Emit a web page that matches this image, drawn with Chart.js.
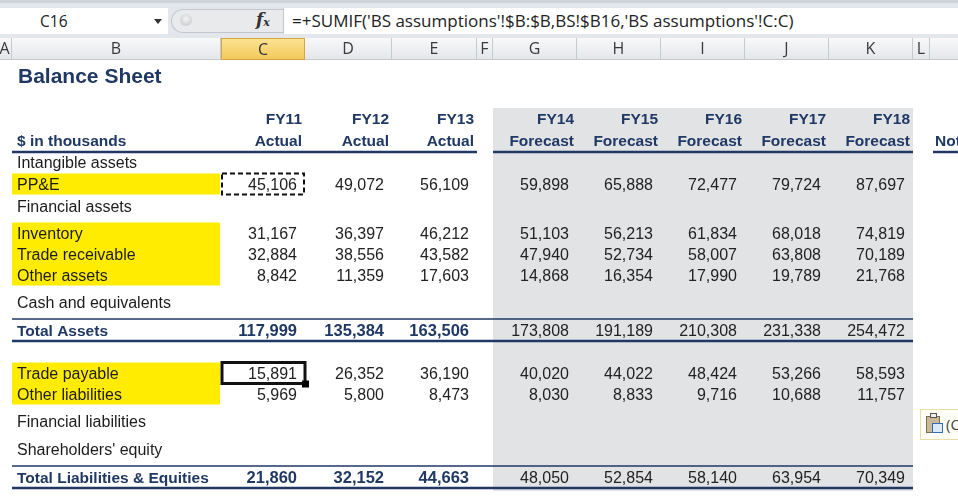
<!DOCTYPE html>
<html>
<head>
<meta charset="utf-8">
<script src="https://cdn.jsdelivr.net/npm/chart.js@4.4.1/dist/chart.umd.min.js"></script>
<style>
  html, body { margin: 0; padding: 0; background: #fff; overflow: hidden; }
  #wrap { position: relative; width: 958px; height: 496px; }
  #sheet { position: absolute; left: 0; top: 0; }
  .chrome { position: absolute; z-index: 2; }
  #topband { left: 0; top: 0; width: 958px; height: 38px; background: #e3e7ec; border-top: 3px solid #cfd4da; box-sizing: border-box; }
  #namebox { left: 0; top: 8px; width: 168px; height: 26px; background: #fff; font: 15.5px "Open Sans", sans-serif; color: #222; }
  #namebox span { position: absolute; left: 40px; top: 2px; }
  #namebox i { position: absolute; left: 154px; top: 11px; width: 0; height: 0; border-left: 4px solid transparent; border-right: 4px solid transparent; border-top: 5px solid #333; }
  #pill { left: 171px; top: 9px; width: 112px; height: 24px; background: #e9eaec; border: 1px solid #c3c7cc; border-right: none; border-radius: 13px 0 0 13px; box-sizing: border-box; }
  #knob { left: 180px; top: 14px; width: 12px; height: 12px; border-radius: 6px; background: radial-gradient(circle at 50% 40%, #f4f4f4, #bfc2c6); }
  #fx { left: 256px; top: 9px; font: italic bold 17px "DejaVu Serif", serif; color: #333; }
  #fx sub { font-size: 11px; vertical-align: -1px; }
  #formula { left: 283px; top: 8px; width: 675px; height: 26px; background: #fff; border-left: 1px solid #c3c7cc; box-sizing: border-box; font: 17px "Open Sans", sans-serif; color: #222; padding-left: 8px; line-height: 26px; white-space: nowrap; }
  .colhead { top: 38px; height: 22px; box-sizing: border-box; background: linear-gradient(#f7f8f9, #e4e7ea); border-right: 1px solid #c6cacf; border-bottom: 1px solid #c6cacf; font: 16px "Open Sans", sans-serif; color: #3a3a3a; text-align: center; line-height: 21px; }
  .colhead.sel { background: linear-gradient(#fbe291, #f3c95c); border: 1px solid #d9a63d; color: #333; }
  #paste { left: 920px; top: 409px; width: 50px; height: 31px; box-sizing: border-box; border: 1px solid #e8dca8; background: #fffef4; font: 15px "Open Sans", sans-serif; color: #444; }
  #paste .board { position: absolute; left: 5px; top: 6px; width: 14px; height: 17px; background: #c9b99a; border: 1px solid #7d6f55; box-sizing: border-box; }
  #paste .clip { position: absolute; left: 9px; top: 3px; width: 7px; height: 5px; background: #eee; border: 1px solid #555; box-sizing: border-box; }
  #paste .doc { position: absolute; left: 11px; top: 13px; width: 11px; height: 10px; background: #dbeaf8; border: 1px solid #2f6db4; box-sizing: border-box; }
  #paste span { position: absolute; left: 25px; top: 4px; }
</style>
</head>
<body>
<div id="wrap">
  <canvas id="sheet" width="958" height="496"></canvas>
  <div class="chrome" id="topband"></div>
  <div class="chrome" id="namebox"><span>C16</span><i></i></div>
  <div class="chrome" id="pill"></div>
  <div class="chrome" id="knob"></div>
  <div class="chrome" id="fx">f<sub>x</sub></div>
  <div class="chrome" id="formula">=+SUMIF('BS assumptions'!$B:$B,BS!$B16,'BS assumptions'!C:C)</div>
  <div id="heads"></div>
  <div class="chrome" id="paste"><div class="board"></div><div class="clip"></div><div class="doc"></div><span>(C</span></div>
</div>
<script>
// ---- data ----
const years = ['FY11', 'FY12', 'FY13', 'FY14', 'FY15', 'FY16', 'FY17', 'FY18'];
const basis = ['Actual', 'Actual', 'Actual', 'Forecast', 'Forecast', 'Forecast', 'Forecast', 'Forecast'];
const rowLabels = ['Intangible assets', 'PP&E', 'Financial assets', 'Inventory', 'Trade receivable', 'Other assets',
  'Cash and equivalents', 'Total Assets', 'Trade payable', 'Other liabilities', 'Financial liabilities',
  "Shareholders' equity", 'Total Liabilities & Equities'];
const ppe = [45106, 49072, 56109, 59898, 65888, 72477, 79724, 87697];
const inventory = [31167, 36397, 46212, 51103, 56213, 61834, 68018, 74819];
const tradeReceivable = [32884, 38556, 43582, 47940, 52734, 58007, 63808, 70189];
const otherAssets = [8842, 11359, 17603, 14868, 16354, 17990, 19789, 21768];
const totalAssets = [117999, 135384, 163506, 173808, 191189, 210308, 231338, 254472];
const tradePayable = [15891, 26352, 36190, 40020, 44022, 48424, 53266, 58593];
const otherLiabilities = [5969, 5800, 8473, 8030, 8833, 9716, 10688, 11757];
const totalLiabEq = [21860, 32152, 44663, 48050, 52854, 58140, 63954, 70349];

// which label row each series belongs to
const seriesRows = [
  { row: 1, values: ppe },
  { row: 3, values: inventory },
  { row: 4, values: tradeReceivable },
  { row: 5, values: otherAssets },
  { row: 7, values: totalAssets, total: true },
  { row: 8, values: tradePayable },
  { row: 9, values: otherLiabilities },
  { row: 12, values: totalLiabEq, total: true }
];

// ---- sheet layout (pixels of the sheet) ----
const colLetters = ['A', 'B', 'C', 'D', 'E', 'F', 'G', 'H', 'I', 'J', 'K', 'L', ''];
const colEdges = [-2, 12, 221, 305, 392, 477, 493, 577, 661, 745, 829, 913, 930, 960];
const yearCols = [2, 3, 4, 6, 7, 8, 9, 10];
const rowY = [162, 184, 206, 233, 254, 275, 302, 330, 373, 394, 421, 449, 477];
const NAVY = '#1f3864';
const FONT = '"Liberation Sans", Arial, sans-serif';
const TY = 1.5; // text sits a touch low in Excel cells

// column header strip
const heads = document.getElementById('heads');
colLetters.forEach((c, i) => {
  const d = document.createElement('div');
  d.className = 'chrome colhead' + (c === 'C' ? ' sel' : '');
  d.style.left = colEdges[i] + 'px';
  d.style.width = (colEdges[i + 1] - colEdges[i]) + 'px';
  d.textContent = c;
  heads.appendChild(d);
});

const fmt = v => v.toLocaleString('en-US');

const sheetPlugin = {
  id: 'sheet',
  beforeDatasetsDraw(chart) {
    const { ctx, scales: { x, y } } = chart;
    const band = (x0, x1, y0, y1, color) => {
      ctx.fillStyle = color;
      ctx.fillRect(x.getPixelForValue(x0), y.getPixelForValue(y0),
        x.getPixelForValue(x1) - x.getPixelForValue(x0), y.getPixelForValue(y1) - y.getPixelForValue(y0));
    };
    const hline = (x0, x1, yy, w) => {
      ctx.strokeStyle = NAVY;
      ctx.lineWidth = w;
      ctx.beginPath();
      ctx.moveTo(x.getPixelForValue(x0), y.getPixelForValue(yy));
      ctx.lineTo(x.getPixelForValue(x1), y.getPixelForValue(yy));
      ctx.stroke();
    };
    ctx.save();
    // forecast shading
    band(colEdges[6], colEdges[11], 108, 491, '#e2e3e5');
    // yellow input rows
    band(12, 220, rowY[1] - 10.5, rowY[1] + 10.5, '#ffec00');
    band(12, 220, rowY[3] - 10.5, rowY[5] + 10.5, '#ffec00');
    band(12, 220, rowY[8] - 10.5, rowY[9] + 10.5, '#ffec00');
    // header underline
    hline(12, colEdges[5], 152, 2.5);
    hline(colEdges[6], colEdges[11], 152, 2.5);
    hline(933, 960, 152, 2.5);
    // totals
    [7, 12].forEach(r => {
      hline(12, colEdges[11], rowY[r] - 11, 1.5);
      hline(12, colEdges[11], rowY[r] + 11, 2.5);
    });
    ctx.restore();
  },
  afterDatasetsDraw(chart) {
    const { ctx, scales: { x, y } } = chart;
    ctx.save();
    ctx.textBaseline = 'middle';
    // title
    ctx.fillStyle = NAVY;
    ctx.font = 'bold 21px ' + FONT;
    ctx.textAlign = 'left';
    ctx.fillText('Balance Sheet', x.getPixelForValue(18), y.getPixelForValue(76 + TY));
    // column headings
    ctx.font = 'bold 15.5px ' + FONT;
    ctx.fillText('$ in thousands', x.getPixelForValue(17), y.getPixelForValue(140 + TY));
    ctx.fillText('Not', x.getPixelForValue(935), y.getPixelForValue(140 + TY));
    ctx.textAlign = 'right';
    years.forEach((yr, i) => {
      const cx = x.getPixelForValue(colEdges[yearCols[i] + 1] - 3);
      ctx.fillText(yr, cx, y.getPixelForValue(118 + TY));
      ctx.fillText(basis[i], cx, y.getPixelForValue(140 + TY));
    });
    // row labels
    ctx.textAlign = 'left';
    rowLabels.forEach((lab, r) => {
      const isTotal = r === 7 || r === 12;
      ctx.font = (isTotal ? 'bold 15.5px ' : '16px ') + FONT;
      ctx.fillStyle = isTotal ? NAVY : '#1c1c1c';
      ctx.fillText(lab, x.getPixelForValue(17), y.getPixelForValue(rowY[r] + TY));
    });
    // values, placed at each point the scatter datasets laid out
    ctx.textAlign = 'right';
    chart.data.datasets.forEach((ds, d) => {
      const meta = chart.getDatasetMeta(d);
      meta.data.forEach((pt, i) => {
        const bold = ds.total && basis[i] === 'Actual';
        ctx.font = (bold ? 'bold 16.5px ' : '16px ') + FONT;
        ctx.fillStyle = bold ? NAVY : '#222';
        ctx.fillText(fmt(ds.values[i]), pt.x - 8, pt.y + TY);
      });
    });
    // copy marquee around C5 and active cell C16
    const cx0 = x.getPixelForValue(colEdges[2]), cx1 = x.getPixelForValue(colEdges[3]);
    ctx.strokeStyle = '#111';
    ctx.lineWidth = 2;
    ctx.setLineDash([5, 3]);
    ctx.strokeRect(cx0 + 1, y.getPixelForValue(rowY[1] - 10.5), cx1 - cx0 - 2, y.getPixelForValue(rowY[1] + 10.5) - y.getPixelForValue(rowY[1] - 10.5));
    ctx.setLineDash([]);
    ctx.lineWidth = 3;
    const t = y.getPixelForValue(rowY[8] - 10.5), b = y.getPixelForValue(rowY[8] + 10.5);
    ctx.strokeRect(cx0 + 1, t, cx1 - cx0 - 1, b - t);
    ctx.fillStyle = '#000';
    ctx.fillRect(cx1 - 3, b - 3, 7, 7);
    ctx.restore();
  }
};

new Chart(document.getElementById('sheet'), {
  type: 'scatter',
  data: {
    datasets: seriesRows.map(s => ({
      label: rowLabels[s.row],
      values: s.values,
      total: !!s.total,
      data: s.values.map((v, i) => ({ x: colEdges[yearCols[i] + 1], y: rowY[s.row] })),
      pointRadius: 0,
      pointHoverRadius: 0
    }))
  },
  options: {
    responsive: false,
    animation: false,
    events: [],
    layout: { padding: 0 },
    plugins: { legend: { display: false }, tooltip: { enabled: false } },
    scales: {
      x: { type: 'linear', min: 0, max: 958, display: false },
      y: { type: 'linear', min: 0, max: 496, reverse: true, display: false }
    }
  },
  plugins: [sheetPlugin]
});
</script>
</body>
</html>
